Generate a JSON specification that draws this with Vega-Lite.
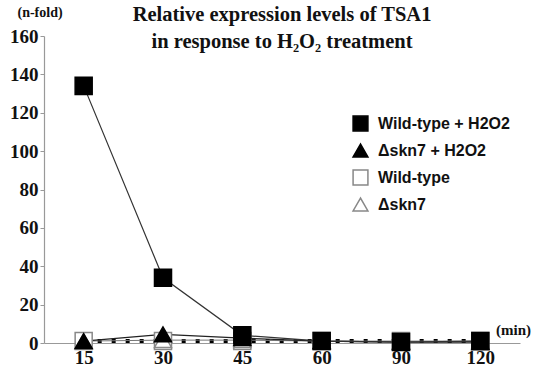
{
  "$schema": "https://vega.github.io/schema/vega-lite/v6.json",
  "width": 476,
  "height": 307,
  "autosize": "none",
  "padding": {"left": 44, "top": 36, "right": 25, "bottom": 28},
  "background": "white",
  "title": {
    "text": ["Relative expression levels of TSA1", "in response to H₂O₂ treatment"],
    "font": "Liberation Serif",
    "fontSize": 20.5,
    "fontWeight": "bold",
    "color": "#111",
    "lineHeight": 27,
    "anchor": "middle",
    "baseline": "top",
    "offset": -60,
    "dy": -13
  },
  "data": {
    "values": [
      {"t": 15, "series": "Wild-type", "v": 1},
      {"t": 30, "series": "Wild-type", "v": 1},
      {"t": 45, "series": "Wild-type", "v": 1},
      {"t": 60, "series": "Wild-type", "v": 1},
      {"t": 90, "series": "Wild-type", "v": 1},
      {"t": 120, "series": "Wild-type", "v": 1},
      {"t": 15, "series": "Δskn7", "v": 1},
      {"t": 30, "series": "Δskn7", "v": 1.5},
      {"t": 45, "series": "Δskn7", "v": 1.5},
      {"t": 60, "series": "Δskn7", "v": 1},
      {"t": 90, "series": "Δskn7", "v": 1},
      {"t": 120, "series": "Δskn7", "v": 1},
      {"t": 15, "series": "Δskn7 + H2O2", "v": 1},
      {"t": 30, "series": "Δskn7 + H2O2", "v": 4.5},
      {"t": 45, "series": "Δskn7 + H2O2", "v": 2.5},
      {"t": 60, "series": "Δskn7 + H2O2", "v": 1},
      {"t": 90, "series": "Δskn7 + H2O2", "v": 0.5},
      {"t": 120, "series": "Δskn7 + H2O2", "v": 0.5},
      {"t": 15, "series": "Wild-type + H2O2", "v": 134},
      {"t": 30, "series": "Wild-type + H2O2", "v": 34},
      {"t": 45, "series": "Wild-type + H2O2", "v": 4},
      {"t": 60, "series": "Wild-type + H2O2", "v": 1},
      {"t": 90, "series": "Wild-type + H2O2", "v": 0.5},
      {"t": 120, "series": "Wild-type + H2O2", "v": 1}
    ]
  },
  "encoding": {
    "x": {
      "field": "t",
      "type": "ordinal",
      "scale": {"type": "point", "padding": 0.5},
      "axis": {
        "title": "(min)",
        "titleFont": "Liberation Serif",
        "titleFontSize": 15,
        "titleFontWeight": "bold",
        "titleColor": "#111",
        "titleX": 469,
        "titleY": -14,
        "titleAnchor": "middle",
        "titleBaseline": "middle",
        "labelAngle": 0,
        "labelFont": "Liberation Serif",
        "labelFontSize": 19,
        "labelFontWeight": "bold",
        "labelColor": "#111",
        "labelPadding": 5,
        "ticks": false,
        "domainColor": "#999",
        "domainWidth": 1.2,
        "grid": false
      }
    },
    "y": {
      "field": "v",
      "type": "quantitative",
      "scale": {"domain": [0, 160], "nice": false},
      "axis": {
        "title": "(n-fold)",
        "titleAngle": 0,
        "titleFont": "Liberation Serif",
        "titleFontSize": 14,
        "titleFontWeight": "bold",
        "titleColor": "#111",
        "titleX": -27,
        "titleY": -24,
        "titleAlign": "left",
        "titleAnchor": null,
        "titleBaseline": "middle",
        "values": [0, 20, 40, 60, 80, 100, 120, 140, 160],
        "labelFont": "Liberation Serif",
        "labelFontSize": 19,
        "labelFontWeight": "bold",
        "labelColor": "#111",
        "labelPadding": 2,
        "tickSize": 4,
        "tickColor": "#999",
        "domainColor": "#999",
        "domainWidth": 1.2,
        "grid": false
      }
    }
  },
  "layer": [
    {
      "transform": [{"filter": "datum.series === 'Wild-type'"}],
      "mark": {"type": "line", "color": "black", "strokeWidth": 4, "strokeDash": [4, 10]},
      "encoding": {}
    },
    {
      "transform": [{"filter": "datum.series === 'Δskn7'"}],
      "mark": {"type": "line", "color": "#777", "strokeWidth": 1},
      "encoding": {}
    },
    {
      "transform": [{"filter": "datum.series === 'Δskn7 + H2O2'"}],
      "mark": {"type": "line", "color": "#222", "strokeWidth": 1.2},
      "encoding": {}
    },
    {
      "transform": [{"filter": "datum.series === 'Wild-type + H2O2'"}],
      "mark": {"type": "line", "color": "#333", "strokeWidth": 1.2},
      "encoding": {}
    },
    {
      "mark": {"type": "point", "filled": false, "opacity": 1, "strokeWidth": 1.5},
      "encoding": {
        "shape": {
          "field": "series",
          "type": "nominal",
          "scale": {
            "domain": ["Wild-type + H2O2", "Δskn7 + H2O2", "Wild-type", "Δskn7"],
            "range": ["square", "triangle-up", "square", "triangle-up"]
          },
          "legend": {
            "title": null,
            "orient": "none",
            "legendX": 308,
            "legendY": 79,
            "labelFont": "Liberation Sans",
            "labelFontSize": 16,
            "labelFontWeight": "bold",
            "labelColor": "#111",
            "rowPadding": 7,
            "symbolSize": 220,
            "symbolStrokeWidth": 1.5,
            "labelOffset": 9
          }
        },
        "fill": {
          "field": "series",
          "type": "nominal",
          "scale": {
            "domain": ["Wild-type + H2O2", "Δskn7 + H2O2", "Wild-type", "Δskn7"],
            "range": ["black", "black", "white", "white"]
          },
          "legend": null
        },
        "stroke": {
          "field": "series",
          "type": "nominal",
          "scale": {
            "domain": ["Wild-type + H2O2", "Δskn7 + H2O2", "Wild-type", "Δskn7"],
            "range": ["black", "black", "#888", "#888"]
          },
          "legend": null
        },
        "size": {"value": 290}
      }
    }
  ],
  "config": {"view": {"stroke": null}}
}
